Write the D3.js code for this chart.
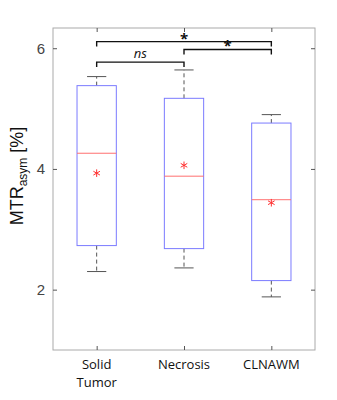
<!DOCTYPE html>
<html>
<head>
<meta charset="utf-8">
<script src="https://cdn.jsdelivr.net/npm/d3@7"></script>
<style>
  body { margin: 0; background: #fff; }
  svg { display: block; }
</style>
</head>
<body>
<svg id="chart"></svg>
<script>
const categories = ['Solid Tumor', 'Necrosis', 'CLNAWM'];
const whiskerLow = [2.30, 2.36, 1.88];
const boxLow = [2.73, 2.68, 2.15];
const medians = [4.26, 3.88, 3.49];
const boxHigh = [5.38, 5.17, 4.76];
const whiskerHigh = [5.53, 5.64, 4.90];
const means = [3.93, 4.06, 3.44];
const yTicks = [2, 4, 6];

// significance brackets: from / to index, label, bracket level value
const sigPairs = [
  { a: 0, b: 2, label: '*', level: 6.11 },
  { a: 1, b: 2, label: '*', level: 5.98 },
  { a: 0, b: 1, label: 'ns', level: 5.77 }
];

const width = 337, height = 400;
const margin = { top: 28, right: 22, bottom: 50, left: 53 };

const svg = d3.select('#chart')
    .attr('width', width)
    .attr('height', height);

const x = d3.scaleLinear()
    .domain([0.5, 3.5])
    .range([margin.left, width - margin.right]);

const y = d3.scaleLinear()
    .domain([1, 6.335])
    .range([height - margin.bottom, margin.top]);

const boxes = categories.map((c, i) => ({
  name: c, pos: i + 1,
  wl: whiskerLow[i], q1: boxLow[i], med: medians[i],
  q3: boxHigh[i], wh: whiskerHigh[i], mean: means[i]
}));

const grey = '#555';
const half = 0.225, capHalf = 0.11;

// axes frame
const x0 = x.range()[0], x1 = x.range()[1];
const y0 = y.range()[0], y1 = y.range()[1];

svg.append('rect')
    .attr('x', x0).attr('y', y1)
    .attr('width', x1 - x0).attr('height', y0 - y1)
    .attr('fill', 'none')
    .attr('stroke', '#aaa')
    .attr('stroke-width', 1);

// left axis ticks + labels
svg.append('g')
    .attr('transform', `translate(${x0},0)`)
    .call(d3.axisLeft(y).tickValues(yTicks).tickSize(-4).tickPadding(8).tickFormat(d3.format('d')))
    .call(g => g.select('.domain').remove())
    .call(g => g.selectAll('line').attr('stroke', grey))
    .call(g => g.selectAll('text')
        .attr('fill', '#444')
        .style('font-family', 'Liberation Sans, Arial, sans-serif')
        .style('font-size', '15px'));

// right ticks
svg.append('g')
    .attr('transform', `translate(${x1},0)`)
    .call(d3.axisRight(y).tickValues(yTicks).tickSize(-4).tickFormat(''))
    .call(g => g.select('.domain').remove())
    .call(g => g.selectAll('line').attr('stroke', grey));

// top/bottom ticks
svg.append('g')
    .attr('transform', `translate(0,${y0})`)
    .call(d3.axisBottom(x).tickValues([1, 2, 3]).tickSize(-4).tickFormat(''))
    .call(g => g.select('.domain').remove())
    .call(g => g.selectAll('line').attr('stroke', grey));

svg.append('g')
    .attr('transform', `translate(0,${y1})`)
    .call(d3.axisTop(x).tickValues([1, 2, 3]).tickSize(-4).tickFormat(''))
    .call(g => g.select('.domain').remove())
    .call(g => g.selectAll('line').attr('stroke', grey));

// category labels
const catLabels = svg.append('g')
    .selectAll('text')
    .data(boxes)
    .enter()
    .append('text')
    .attr('x', d => x(d.pos))
    .attr('y', y0 + 19)
    .attr('text-anchor', 'middle')
    .style('font-family', 'Open Sans, sans-serif')
    .style('font-size', '13px')
    .attr('fill', '#111');

catLabels.each(function(d) {
  const words = d.name.split(' ');
  d3.select(this).selectAll('tspan')
      .data(words)
      .enter()
      .append('tspan')
      .attr('x', x(d.pos))
      .attr('dy', (w, i) => i === 0 ? 0 : '1.35em')
      .text(w => w);
});

// y axis title
const title = svg.append('text')
    .attr('transform', `translate(23,${(y0 + y1) / 2 - 13}) rotate(-90)`)
    .attr('text-anchor', 'middle')
    .style('font-family', 'Liberation Sans, Arial, sans-serif')
    .style('font-size', '18px')
    .attr('fill', '#111');
title.append('tspan').text('MTR');
title.append('tspan').attr('dy', 4).style('font-size', '12px').text('asym');
title.append('tspan').attr('dy', -4).text(' [%]');

// boxes
const g = svg.selectAll('g.box')
    .data(boxes)
    .enter()
    .append('g')
    .attr('class', 'box');

// whiskers (dashed)
g.append('line')
    .attr('x1', d => x(d.pos)).attr('x2', d => x(d.pos))
    .attr('y1', d => y(d.q3)).attr('y2', d => y(d.wh))
    .attr('stroke', grey).attr('stroke-dasharray', '4,3');
g.append('line')
    .attr('x1', d => x(d.pos)).attr('x2', d => x(d.pos))
    .attr('y1', d => y(d.q1)).attr('y2', d => y(d.wl))
    .attr('stroke', grey).attr('stroke-dasharray', '4,3');

// caps
g.append('line')
    .attr('x1', d => x(d.pos - capHalf)).attr('x2', d => x(d.pos + capHalf))
    .attr('y1', d => y(d.wh)).attr('y2', d => y(d.wh))
    .attr('stroke', grey);
g.append('line')
    .attr('x1', d => x(d.pos - capHalf)).attr('x2', d => x(d.pos + capHalf))
    .attr('y1', d => y(d.wl)).attr('y2', d => y(d.wl))
    .attr('stroke', grey);

// box
g.append('rect')
    .attr('x', d => x(d.pos - half))
    .attr('y', d => y(d.q3))
    .attr('width', d => x(d.pos + half) - x(d.pos - half))
    .attr('height', d => y(d.q1) - y(d.q3))
    .attr('fill', 'none')
    .attr('stroke', '#7b7bff')
    .attr('stroke-width', 1);

// median
g.append('line')
    .attr('x1', d => x(d.pos - half)).attr('x2', d => x(d.pos + half))
    .attr('y1', d => y(d.med)).attr('y2', d => y(d.med))
    .attr('stroke', '#ff7070');

// mean marker (asterisk)
const star = d3.symbol().type(d3.symbolAsterisk).size(40);
g.append('path')
    .attr('d', star)
    .attr('transform', d => `translate(${x(d.pos)},${y(d.mean)})`)
    .attr('fill', 'none')
    .attr('stroke', '#ff3030')
    .attr('stroke-width', 1);

// significance brackets
const tickLen = 5;
const sig = svg.selectAll('g.sig')
    .data(sigPairs)
    .enter()
    .append('g')
    .attr('class', 'sig');

sig.append('path')
    .attr('d', d => `M${x(d.a + 1)},${y(d.level) + tickLen}V${y(d.level)}H${x(d.b + 1)}V${y(d.level) + tickLen}`)
    .attr('fill', 'none')
    .attr('stroke', '#111')
    .attr('stroke-width', 1.4);

sig.append('text')
    .attr('x', d => (x(d.a + 1) + x(d.b + 1)) / 2)
    .attr('y', d => d.label === 'ns' ? y(d.level) - 4 : y(d.level) + 2)
    .attr('text-anchor', 'middle')
    .style('font-family', 'Open Sans, sans-serif')
    .style('font-size', d => d.label === 'ns' ? '13px' : '15px')
    .style('font-style', d => d.label === 'ns' ? 'italic' : 'normal')
    .style('font-weight', d => d.label === 'ns' ? 'normal' : 'bold')
    .attr('fill', '#111')
    .text(d => d.label);
</script>
</body>
</html>
